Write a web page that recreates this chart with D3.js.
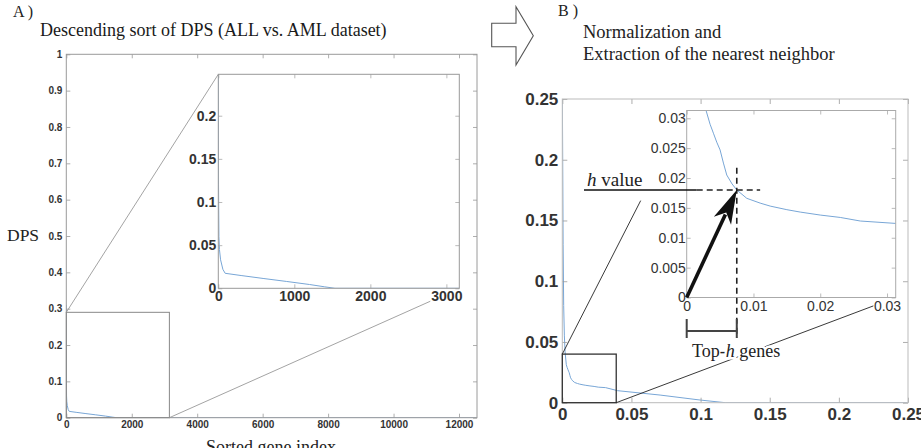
<!DOCTYPE html>
<html>
<head>
<meta charset="utf-8">
<script src="https://cdn.jsdelivr.net/npm/d3@7"></script>
<style>
  html, body { margin: 0; padding: 0; background: #fff; }
  svg { display: block; }
</style>
</head>
<body>
<svg id="chart" width="921" height="448"></svg>
<script>
// ---------------- DATA ----------------
// Panel A: descending-sorted DPS vs sorted gene index
const sortedIndex = [0, 3, 8, 15, 30, 60, 90, 300, 600, 900, 1200, 1400, 1535, 3000, 6000, 9000, 12550];
const sortedDps   = [0.31, 0.12, 0.06, 0.045, 0.033, 0.022, 0.0174, 0.0148, 0.0113, 0.0079, 0.0044, 0.0017, 0, 0, 0, 0, 0];

// Panel B: normalized curve (normalized index, normalized DPS)
const normX = [0, 0.0003, 0.0006, 0.001, 0.0015, 0.002, 0.0029, 0.0035, 0.004, 0.0045, 0.005, 0.0055, 0.006, 0.0068, 0.0075, 0.009, 0.011, 0.0125, 0.015, 0.017, 0.02, 0.023, 0.026, 0.0313, 0.04, 0.0707, 0.0996, 0.118, 0.25];
const normY = [0.26, 0.2, 0.13, 0.08, 0.055, 0.042, 0.0313, 0.029, 0.0275, 0.026, 0.0247, 0.0225, 0.0205, 0.019, 0.018, 0.0166, 0.0158, 0.0153, 0.0147, 0.0143, 0.0138, 0.0134, 0.0128, 0.0124, 0.0099, 0.0063, 0.0022, 0, 0];

// Zoom windows
const zoomA = [3150, 0.29];     // x max, y max of the zoom rectangle in panel A
const insetA = [3170, 0.248];   // inset domain
const zoomB = [0.039, 0.04];
const insetB = [0.0313, 0.0313];
const hPoint = [0.0075, 0.018]; // nearest-neighbour point (h)

// Ticks
const aMainXTicks = [0, 2000, 4000, 6000, 8000, 10000, 12000];
const aMainYTicks = [0, 0.1, 0.2, 0.3, 0.4, 0.5, 0.6, 0.7, 0.8, 0.9, 1];
const aInsetXTicks = [0, 1000, 2000, 3000];
const aInsetYTicks = [0, 0.05, 0.1, 0.15, 0.2];
const bMainTicks = [0, 0.05, 0.1, 0.15, 0.2, 0.25];
const bInsetXTicks = [0, 0.01, 0.02, 0.03];
const bInsetYTicks = [0, 0.005, 0.01, 0.015, 0.02, 0.025, 0.03];

// ---------------- DRAW ----------------
const svg = d3.select("#chart");
svg.append("rect").attr("width", 921).attr("height", 448).attr("fill", "#fff");
const SERIF = "'Liberation Serif', 'Times New Roman', serif";
const SANS = "'Liberation Sans', Arial, Helvetica, sans-serif";
const CURVE = "#78a6d6";
const fmt = d3.format("~g");

let clipId = 0;
function plotLine(g, x, y, xs, ys, color, width) {
  const id = "clip" + (clipId++);
  const [x0, x1] = x.range(), [y0, y1] = y.range();
  svg.append("clipPath").attr("id", id).append("rect")
    .attr("x", x0).attr("y", y1).attr("width", x1 - x0).attr("height", y0 - y1);
  const pts = xs.map((v, i) => [v, ys[i]]);
  g.append("path")
    .attr("clip-path", `url(#${id})`)
    .attr("d", d3.line().x(d => x(d[0])).y(d => y(d[1]))(pts))
    .attr("fill", "none").attr("stroke", color).attr("stroke-width", width);
}

function frame(g, x, y, o) {
  const [x0, x1] = x.range(), [y0, y1] = y.range();
  const ts = o.tick;
  const bottom = g.append("g").attr("transform", `translate(0,${y0})`)
    .call(d3.axisBottom(x).tickValues(o.xt).tickSizeInner(-ts).tickSizeOuter(0).tickPadding(o.xpad).tickFormat(fmt));
  const left = g.append("g").attr("transform", `translate(${x0},0)`)
    .call(d3.axisLeft(y).tickValues(o.yt).tickSizeInner(-ts).tickSizeOuter(0).tickPadding(o.ypad).tickFormat(fmt));
  const top = g.append("g").attr("transform", `translate(0,${y1})`)
    .call(d3.axisTop(x).tickValues(o.xt).tickSizeInner(-ts).tickSizeOuter(0).tickFormat(""));
  const right = g.append("g").attr("transform", `translate(${x1},0)`)
    .call(d3.axisRight(y).tickValues(o.yt).tickSizeInner(-ts).tickSizeOuter(0).tickFormat(""));
  [bottom, left, top, right].forEach(a => {
    a.select(".domain").remove();
    a.selectAll(".tick line").attr("stroke", o.tickColor).attr("stroke-width", 0.8);
    a.selectAll("text").attr("font-family", SANS).attr("font-size", o.fs)
      .attr("font-weight", o.fw).attr("fill", "#333");
  });
  g.append("rect").attr("x", x0).attr("y", y1).attr("width", x1 - x0).attr("height", y0 - y1)
    .attr("fill", "none").attr("stroke", o.frameColor).attr("stroke-width", 1);
}

// ===== Panel A =====
const gA = svg.append("g");
const xA = d3.scaleLinear().domain([0, 12550]).range([66.3, 477]);
const yA = d3.scaleLinear().domain([0, 1]).range([417.7, 54.3]);
plotLine(gA, xA, yA, sortedIndex, sortedDps, CURVE, 1);
frame(gA, xA, yA, {xt: aMainXTicks, yt: aMainYTicks, tick: 4, xpad: 3, ypad: 4, fs: 10, fw: "bold", tickColor: "#999", frameColor: "#9a9a9a"});

// zoom rectangle
gA.append("rect").attr("x", xA(0)).attr("y", yA(zoomA[1]))
  .attr("width", xA(zoomA[0]) - xA(0)).attr("height", yA(0) - yA(zoomA[1]))
  .attr("fill", "none").attr("stroke", "#888").attr("stroke-width", 1);

// inset A
const xAi = d3.scaleLinear().domain([0, insetA[0]]).range([218.3, 459.3]);
const yAi = d3.scaleLinear().domain([0, insetA[1]]).range([288.3, 74.3]);
// connectors
gA.append("line").attr("x1", xA(0)).attr("y1", yA(zoomA[1])).attr("x2", xAi(0)).attr("y2", yAi(insetA[1]))
  .attr("stroke", "#999").attr("stroke-width", 0.9);
{
  const sx = xA(zoomA[0]), sy = yA(0), ex = xAi(insetA[0]), ey = yAi(0), t = 0.9;
  gA.append("line").attr("x1", sx).attr("y1", sy).attr("x2", sx + (ex - sx) * t).attr("y2", sy + (ey - sy) * t)
    .attr("stroke", "#999").attr("stroke-width", 0.9);
}
gA.append("rect").attr("x", xAi(0)).attr("y", yAi(insetA[1])).attr("width", xAi(insetA[0]) - xAi(0))
  .attr("height", yAi(0) - yAi(insetA[1])).attr("fill", "#fff");
plotLine(gA, xAi, yAi, sortedIndex, sortedDps, CURVE, 1);
frame(gA, xAi, yAi, {xt: aInsetXTicks, yt: aInsetYTicks, tick: 4, xpad: 3, ypad: 2, fs: 14, fw: "bold", tickColor: "#aaa", frameColor: "#999"});

// texts A
gA.append("text").attr("x", 13).attr("y", 17).text("A )").attr("font-family", SERIF).attr("font-size", 16).attr("fill", "#222");
gA.append("text").attr("x", 40).attr("y", 36).text("Descending sort of DPS (ALL vs. AML dataset)")
  .attr("font-family", SERIF).attr("font-size", 18).attr("fill", "#1a1a1a");
gA.append("text").attr("x", 7).attr("y", 241).text("DPS").attr("font-family", SERIF).attr("font-size", 17.5).attr("fill", "#222");
gA.append("text").attr("x", 271).attr("y", 453).attr("text-anchor", "middle").text("Sorted gene index")
  .attr("font-family", SERIF).attr("font-size", 18).attr("fill", "#222");

// hollow arrow between panels
svg.append("path").attr("d", "M491.7,23.3 H516 V6.7 L533.3,35.8 L516,65 V46.7 H491.7 Z")
  .attr("fill", "#fff").attr("stroke", "#555").attr("stroke-width", 1.1);

// ===== Panel B =====
const gB = svg.append("g");
const xB = d3.scaleLinear().domain([0, 0.25]).range([562.3, 908]);
const yB = d3.scaleLinear().domain([0, 0.25]).range([402.7, 99]);
plotLine(gB, xB, yB, normX, normY, CURVE, 1);
frame(gB, xB, yB, {xt: bMainTicks, yt: bMainTicks, tick: 5, xpad: 5, ypad: 4, fs: 17, fw: "bold", tickColor: "#999", frameColor: "#bbb"});

gB.append("rect").attr("x", xB(0)).attr("y", yB(zoomB[1]))
  .attr("width", xB(zoomB[0]) - xB(0)).attr("height", yB(0) - yB(zoomB[1]))
  .attr("fill", "none").attr("stroke", "#333").attr("stroke-width", 1.3);

const xBi = d3.scaleLinear().domain([0, insetB[0]]).range([686.7, 895.7]);
const yBi = d3.scaleLinear().domain([0, insetB[1]]).range([297.5, 110.5]);

// connectors B
{
  const sx = xB(0), sy = yB(zoomB[1]), ex = xBi(0), ey = yBi(insetB[1]), t = 0.63;
  gB.append("line").attr("x1", sx).attr("y1", sy).attr("x2", sx + (ex - sx) * t).attr("y2", sy + (ey - sy) * t)
    .attr("stroke", "#222").attr("stroke-width", 0.9);
}
{
  const sx = xB(zoomB[0]), sy = yB(0), ex = xBi(insetB[0]), ey = yBi(0), t = 0.92;
  gB.append("line").attr("x1", sx).attr("y1", sy).attr("x2", sx + (ex - sx) * t).attr("y2", sy + (ey - sy) * t)
    .attr("stroke", "#222").attr("stroke-width", 0.9);
}

gB.append("rect").attr("x", xBi(0)).attr("y", yBi(insetB[1])).attr("width", xBi(insetB[0]) - xBi(0))
  .attr("height", yBi(0) - yBi(insetB[1])).attr("fill", "#fff");
plotLine(gB, xBi, yBi, normX, normY, CURVE, 1);
frame(gB, xBi, yBi, {xt: bInsetXTicks, yt: bInsetYTicks, tick: 4, xpad: 4, ypad: 1, fs: 14, fw: "normal", tickColor: "#aaa", frameColor: "#aaa"});

// h annotations
const hx = xBi(hPoint[0]), hy = yBi(hPoint[1]);
gB.append("line").attr("x1", 584).attr("y1", hy).attr("x2", xBi(0.0015)).attr("y2", hy)
  .attr("stroke", "#111").attr("stroke-width", 1.6);
gB.append("line").attr("x1", xBi(0.0015)).attr("y1", hy).attr("x2", xBi(0.011)).attr("y2", hy)
  .attr("stroke", "#222").attr("stroke-width", 1.6).attr("stroke-dasharray", "6,4");
gB.append("line").attr("x1", hx).attr("y1", yBi(0.0217)).attr("x2", hx).attr("y2", 338)
  .attr("stroke", "#222").attr("stroke-width", 1.6).attr("stroke-dasharray", "6,4");
// bracket
gB.append("path").attr("d", `M${xBi(0)},319 V338 M${xBi(0)},331 H${hx} M${hx},319 V338`)
  .attr("fill", "none").attr("stroke", "#444").attr("stroke-width", 2);
// thick arrow
{
  const sx = xBi(0), sy = yBi(0);
  const dx = hx - sx, dy = hy - sy, L = Math.hypot(dx, dy), ux = dx / L, uy = dy / L;
  const headL = 31, headW = 9.5;
  const bx = hx - ux * headL, by = hy - uy * headL;
  gB.append("line").attr("x1", sx).attr("y1", sy).attr("x2", bx + ux * 4).attr("y2", by + uy * 4)
    .attr("stroke", "#111").attr("stroke-width", 3.6);
  const nx = -uy, ny = ux;
  gB.append("path").attr("d",
    `M${hx},${hy} L${bx + nx * headW - ux * 3},${by + ny * headW - uy * 3} L${bx + ux * 6},${by + uy * 6} L${bx - nx * headW - ux * 3},${by - ny * headW - uy * 3} Z`)
    .attr("fill", "#111");
}

// texts B
gB.append("text").attr("x", 558).attr("y", 16).text("B )").attr("font-family", SERIF).attr("font-size", 16).attr("fill", "#222");
gB.append("text").attr("x", 583).attr("y", 38).text("Normalization and").attr("font-family", SERIF).attr("font-size", 18.5).attr("fill", "#222");
gB.append("text").attr("x", 583).attr("y", 60).text("Extraction of the nearest neighbor").attr("font-family", SERIF).attr("font-size", 18.5).attr("fill", "#222");
{
  const t = gB.append("text").attr("x", 587).attr("y", 186).attr("font-family", SERIF).attr("font-size", 19).attr("fill", "#222");
  t.append("tspan").attr("font-style", "italic").text("h");
  t.append("tspan").text(" value");
}
{
  const t = gB.append("text").attr("x", 692).attr("y", 357).attr("font-family", SERIF).attr("font-size", 18).attr("fill", "#222")
    .attr("stroke", "#fff").attr("stroke-width", 5).attr("paint-order", "stroke");
  t.append("tspan").text("Top-");
  t.append("tspan").attr("font-style", "italic").text("h");
  t.append("tspan").text(" genes");
}
</script>
</body>
</html>
